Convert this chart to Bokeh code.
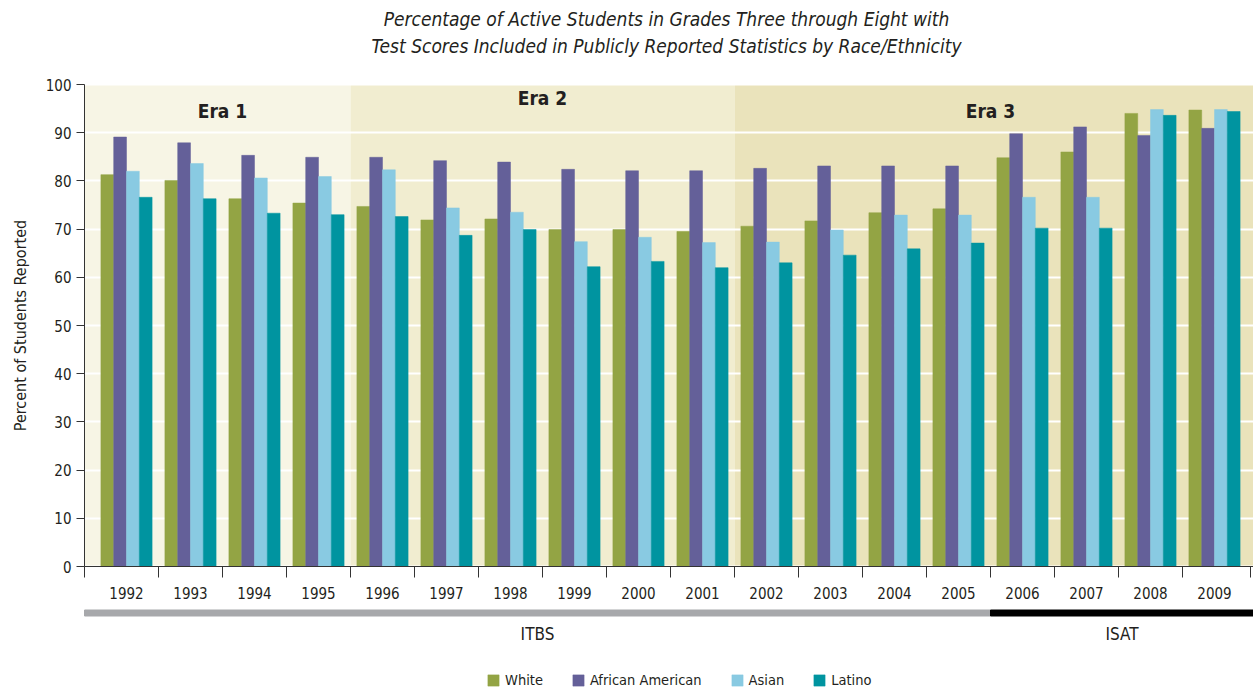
import numpy as np
from bokeh.plotting import figure
from bokeh.models import (ColumnDataSource, Range1d, FixedTicker, SingleIntervalTicker,
                          Label, Legend, LegendItem)
from bokeh.transform import dodge
from bokeh.core.properties import value
from bokeh.embed import file_html
from bokeh.resources import INLINE

# ---------------- data ----------------
years = ["1992", "1993", "1994", "1995", "1996", "1997", "1998", "1999", "2000",
         "2001", "2002", "2003", "2004", "2005", "2006", "2007", "2008", "2009"]
white = [81.3, 80.1, 76.3, 75.4, 74.7, 71.9, 72.1, 69.9, 69.9, 69.5, 70.6, 71.7,
         73.4, 74.2, 84.8, 86.0, 94.0, 94.7]
african_american = [89.1, 87.9, 85.3, 84.9, 84.9, 84.2, 83.9, 82.4, 82.1, 82.1, 82.6,
                    83.1, 83.1, 83.1, 89.8, 91.2, 89.4, 90.9]
asian = [82.0, 83.6, 80.6, 80.9, 82.3, 74.4, 73.5, 67.4, 68.3, 67.2, 67.3, 69.8,
         72.9, 72.9, 76.6, 76.6, 94.8, 94.8]
latino = [76.6, 76.3, 73.3, 73.0, 72.6, 68.7, 69.9, 62.2, 63.3, 62.0, 63.0, 64.6,
          65.9, 67.1, 70.2, 70.2, 93.6, 94.4]
series_names = ["White", "African American", "Asian", "Latino"]

era_names = ["Era 1", "Era 2", "Era 3"]
era_first = ["1992", "1996", "2002"]
era_last = ["1995", "2001", "2009"]

test_names = ["ITBS", "ISAT"]
test_first = ["1992", "2006"]
test_last = ["2005", "2009"]

y_max = 100
title_lines = ["Percentage of Active Students in Grades Three through Eight with",
               "Test Scores Included in Publicly Reported Statistics by Race/Ethnicity"]
y_title = "Percent of Students Reported"

# ---------------- styles / geometry ----------------
FONT = "'Liberation Sans Narrow', 'DejaVu Sans Condensed', 'Roboto Condensed', 'Noto Sans', sans-serif"
TXT = "#231f20"
series_colors = ["#93a444", "#646099", "#89cae2", "#0094a0"]
era_colors = ["#f7f5e5", "#f1edd0", "#eae3bb"]
test_colors = ["#a7a8ab", "#000000"]

W, H = 1253, 689
PX0, SLOT = 126.0, 64.0          # pixel centre of first category, pixels per category
PY0, PYU = 566.0, 4.82           # pixel of value 0, pixels per unit


def dx(px):
    return (px - PX0) / SLOT


def dy(py):
    return (PY0 - py) / PYU


FX0, FX1 = dx(84), dx(1253)       # plot area edges
N = len(years)

p = figure(width=W, height=H, x_range=Range1d(dx(0), dx(W)), y_range=Range1d(dy(H), dy(0)),
           output_backend="svg", toolbar_location=None,
           min_border_left=0, min_border_right=0, min_border_top=0, min_border_bottom=0,
           background_fill_color="white", border_fill_color="white", outline_line_color=None)

idx = {y: i for i, y in enumerate(years)}


def span(first, last):
    lo = [FX0 if idx[a] == 0 else idx[a] - 0.5 for a in first]
    hi = [FX1 if idx[b] == N - 1 else idx[b] + 0.5 for b in last]
    return lo, hi


# era backgrounds
era_left, era_right = span(era_first, era_last)
p.quad(left=era_left, right=era_right, bottom=0, top=y_max, color=era_colors,
       line_color=None, level="image")

# grid
p.xgrid.visible = False
p.ygrid.grid_line_color = "white"
p.ygrid.grid_line_width = 2
p.ygrid.ticker = SingleIntervalTicker(interval=10)
p.ygrid.bounds = (0, y_max)

# bars
src = ColumnDataSource(dict(x=list(range(N)), white=white,
                            african_american=african_american, asian=asian, latino=latino))
cols = ["white", "african_american", "asian", "latino"]
offsets = [-0.3, -0.1, 0.1, 0.3]
rends = []
for c, off, color in zip(cols, offsets, series_colors):
    r = p.vbar(x=dodge("x", off, range=p.x_range), top=c, width=0.2, source=src,
               fill_color=color, line_color=color, line_width=0.5)
    rends.append(r)

# era labels
era_cx = [(idx[a] - 0.5 + idx[b] + 0.5) / 2 for a, b in zip(era_first, era_last)]
p.text(x=era_cx, y=[dy(110), dy(97), dy(110)], text=era_names, text_font=value(FONT),
       text_font_style="bold", text_font_size="19px", text_align="center",
       text_baseline="middle", text_color=TXT)

# test bars
test_left, test_right = span(test_first, test_last)
p.hbar(y=dy(612.5), left=test_left, right=test_right, height=6 / PYU, color=test_colors)
p.text(x=[(l + r) / 2 for l, r in zip(test_left, test_right)], y=dy(633), text=test_names,
       text_font=value(FONT), text_font_size="17px", text_align="center",
       text_baseline="middle", text_color=TXT)

# x axis (drawn at value 0)
xa = p.xaxis[0]
xa.fixed_location = 0
xa.bounds = (FX0, FX1)
xa.ticker = FixedTicker(ticks=list(range(N)),
                        minor_ticks=[FX0 + 0.002] + [k + 0.5 for k in range(N - 1)] + [FX1 - 0.05])
xa.major_label_overrides = {i: y for i, y in enumerate(years)}
xa.major_tick_out = 0
xa.major_tick_in = 0
xa.minor_tick_out = 11
xa.minor_tick_in = 0
xa.minor_tick_line_color = "#333333"
xa.axis_line_color = "#333333"
xa.major_label_standoff = 9
xa.major_label_text_font = FONT
xa.major_label_text_font_size = "15px"
xa.major_label_text_color = TXT

# y axis (drawn at the left edge of the plot area)
ya = p.yaxis[0]
ya.fixed_location = FX0
ya.ticker = SingleIntervalTicker(interval=10)
ya.bounds = (0, y_max)
ya.major_tick_out = 8
ya.major_tick_in = 0
ya.minor_tick_out = 0
ya.minor_tick_in = 0
ya.axis_line_color = "#333333"
ya.major_tick_line_color = "#333333"
ya.major_label_standoff = 5
ya.major_label_text_font = FONT
ya.major_label_text_font_size = "15px"
ya.major_label_text_color = TXT

p.add_layout(Label(x=dx(20), y=y_max / 2, angle=np.pi / 2, text=y_title, text_font=FONT,
                   text_font_size="16px", text_align="center", text_baseline="middle",
                   text_color=TXT))

# title
for line, py in zip(title_lines, [18, 45]):
    p.add_layout(Label(x=dx(666), y=dy(py), text=line, text_font=FONT,
                       text_font_style="italic", text_font_size="19px",
                       text_align="center", text_baseline="middle", text_color=TXT))

# legend
legend = Legend(items=[LegendItem(label=n, renderers=[r]) for n, r in zip(series_names, rends)],
                orientation="horizontal", location=(486, H - 688), padding=0, margin=0,
                spacing=28, glyph_width=14, glyph_height=14, label_standoff=5,
                label_height=14, border_line_color=None, background_fill_alpha=0,
                label_text_font=FONT, label_text_font_size="14.5px", label_text_color=TXT)
p.add_layout(legend)

open("out.html", "w").write(file_html(p, INLINE))
